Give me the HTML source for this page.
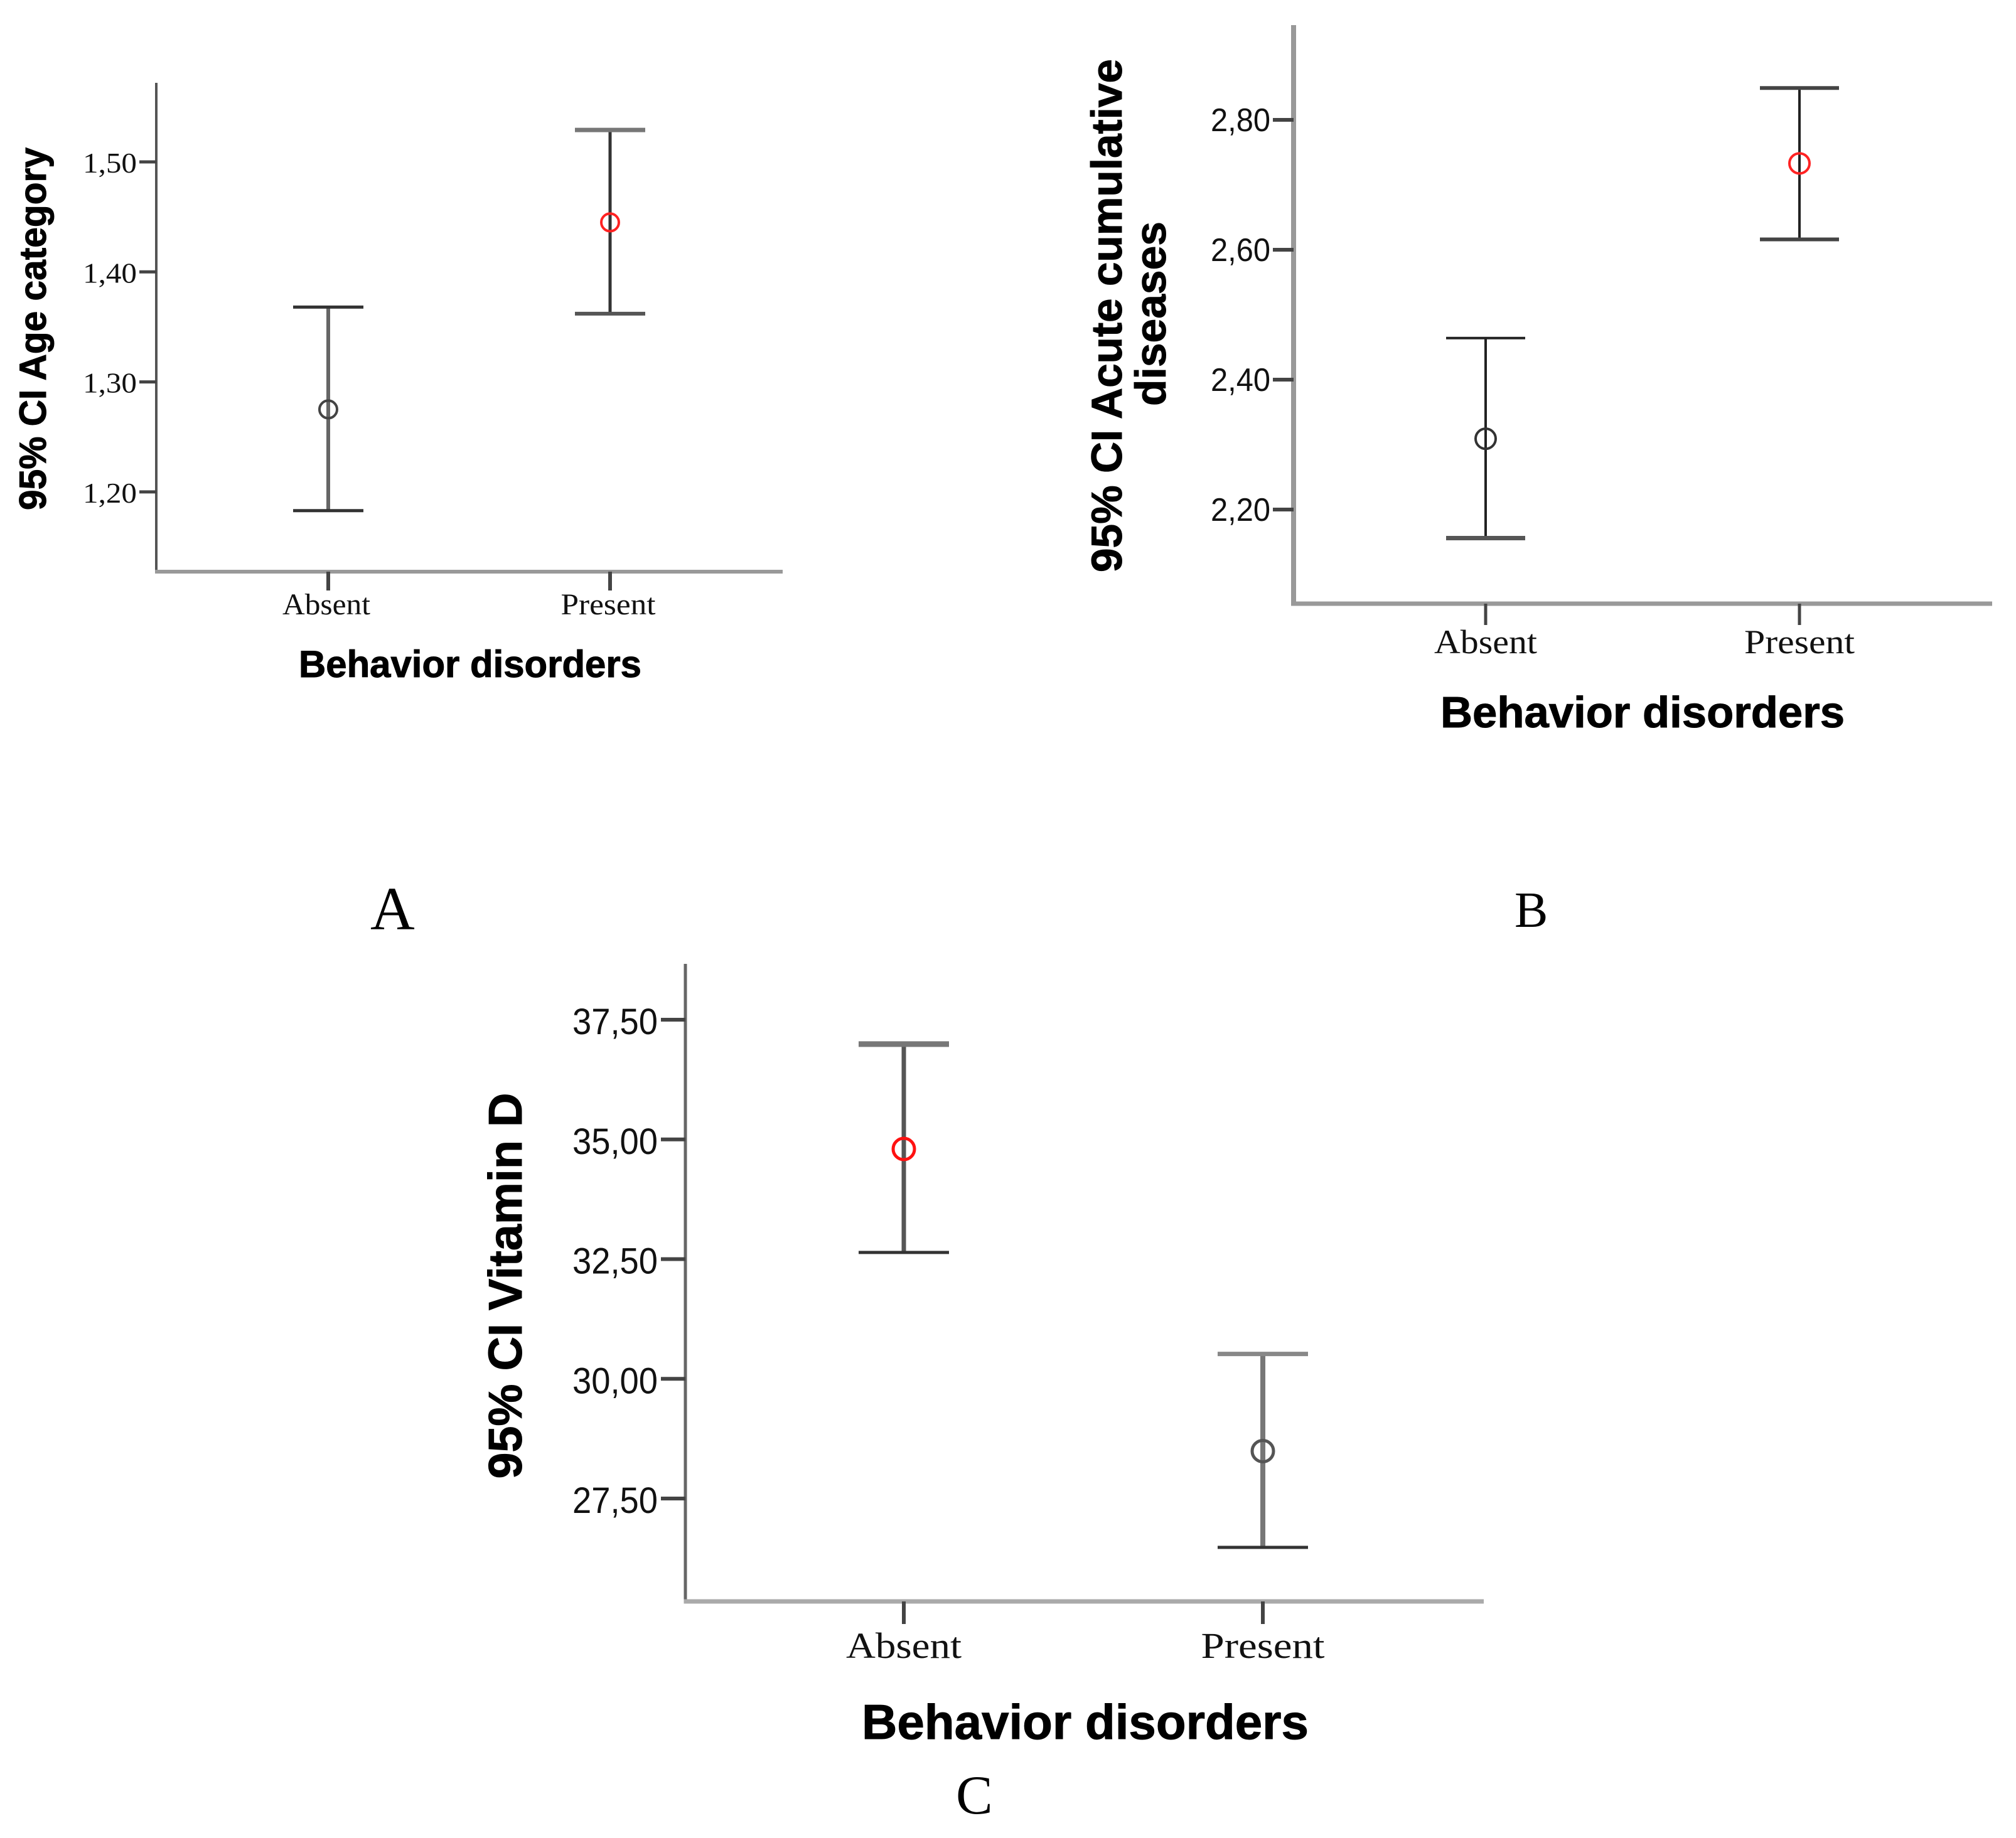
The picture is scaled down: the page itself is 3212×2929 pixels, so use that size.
<!DOCTYPE html>
<html lang="en">
<head>
<meta charset="utf-8">
<title>Behavior disorders confidence interval charts</title>
<style>
html,body{margin:0;padding:0;background:#fff;}
svg{display:block;}
.sans{font-family:"Liberation Sans",sans-serif;}
.serif{font-family:"Liberation Serif",serif;}
.title{font-family:"Liberation Sans",sans-serif;font-weight:700;fill:#000;stroke:#000;stroke-width:1;}
</style>
</head>
<body>
<svg id="figure" xmlns="http://www.w3.org/2000/svg" width="3212" height="2929" viewBox="0 0 3212 2929">
  <rect width="3212" height="2929" fill="#fff"/>

  <g id="panel-a">
    <text class="title" font-size="60" text-anchor="middle" textLength="578" lengthAdjust="spacingAndGlyphs" transform="translate(73 524) rotate(-90)">95% CI Age category</text>
    <text class="title" font-size="60" x="749" y="1079" text-anchor="middle" textLength="546" lengthAdjust="spacingAndGlyphs">Behavior disorders</text>
  </g>

  <g id="panel-b">
    <text class="title" font-size="69" text-anchor="middle" textLength="818" lengthAdjust="spacingAndGlyphs" transform="translate(1787 503) rotate(-90)">95% CI Acute cumulative</text>
    <text class="title" font-size="69" text-anchor="middle" textLength="294" lengthAdjust="spacingAndGlyphs" transform="translate(1857 500) rotate(-90)">diseases</text>
    <text class="title" font-size="70" x="2617" y="1159" text-anchor="middle" textLength="644" lengthAdjust="spacingAndGlyphs">Behavior disorders</text>
  </g>

  <g id="panel-c">
    <text class="title" font-size="75" text-anchor="middle" textLength="615" lengthAdjust="spacingAndGlyphs" transform="translate(831 2049) rotate(-90)">95% CI Vitamin D</text>
    <text class="title" font-size="78" x="1729" y="2771" text-anchor="middle" textLength="712" lengthAdjust="spacingAndGlyphs">Behavior disorders</text>
  </g>

  <text class="serif" font-size="98" x="590" y="1481" fill="#000">A</text>
  <text class="serif" font-size="80" x="2413" y="1477" fill="#000">B</text>
  <text class="serif" font-size="88" x="1523" y="2890" fill="#000">C</text>
</svg>

<script>
const categories = ['Absent', 'Present'];

const tickValuesA = [1.2, 1.3, 1.4, 1.5];
const tickLabelsA = ['1,20', '1,30', '1,40', '1,50'];
const meanA = [1.275, 1.445];
const upperA = [1.368, 1.529];
const lowerA = [1.183, 1.362];

const tickValuesB = [2.2, 2.4, 2.6, 2.8];
const tickLabelsB = ['2,20', '2,40', '2,60', '2,80'];
const meanB = [2.309, 2.733];
const upperB = [2.464, 2.849];
const lowerB = [2.156, 2.616];

const tickValuesC = [27.5, 30, 32.5, 35, 37.5];
const tickLabelsC = ['27,50', '30,00', '32,50', '35,00', '37,50'];
const meanC = [34.8, 28.49];
const upperC = [36.99, 30.52];
const lowerC = [32.64, 26.48];

const SVG_NS = 'http://www.w3.org/2000/svg';

function makeLine(parent, x1, y1, x2, y2, color, width) {
  const el = document.createElementNS(SVG_NS, 'line');
  el.setAttribute('x1', x1);
  el.setAttribute('y1', y1);
  el.setAttribute('x2', x2);
  el.setAttribute('y2', y2);
  el.setAttribute('stroke', color);
  el.setAttribute('stroke-width', width);
  parent.appendChild(el);
  return el;
}

function makeText(parent, str, x, y, size, family, anchor, len) {
  const el = document.createElementNS(SVG_NS, 'text');
  el.textContent = str;
  el.setAttribute('x', x);
  el.setAttribute('y', y);
  el.setAttribute('font-size', size);
  el.setAttribute('class', family);
  el.setAttribute('text-anchor', anchor);
  el.setAttribute('textLength', len);
  el.setAttribute('lengthAdjust', 'spacingAndGlyphs');
  el.setAttribute('fill', '#111');
  parent.appendChild(el);
  return el;
}

function drawPanel(id, ticks, labels, mean, upper, lower, g) {
  const root = document.getElementById(id);
  const yScale = v => g.y0 + (v - g.v0) * g.k;
  const xScale = i => g.catX0 + i * g.catStep;

  const yAxis = makeLine(root, g.axisX, g.axisTop, g.axisX, g.axisBottom + g.xAxisW / 2, g.yAxisColor, g.yAxisW);
  
  

  const xAxis = makeLine(root, g.axisX - g.yAxisW / 2, g.axisBottom, g.axisRight, g.axisBottom, g.xAxisColor, g.xAxisW);
  
  

  ticks.forEach((v, i) => {
    const y = yScale(v);
    const tick = makeLine(root, g.axisX - g.tickLen, y, g.axisX, y, g.tickColor, g.tickW);
    
    
    const label = makeText(root, labels[i], g.tickLabelX, y + g.tickLabelDy, g.tickFont, g.tickFamily, 'end', g.tickLabelLen);
    
    
  });

  categories.forEach((name, i) => {
    const x = xScale(i);
    const tick = makeLine(root, x, g.axisBottom, x, g.axisBottom + g.xTickLen, g.tickColor, g.xTickW);
    
    
    const label = makeText(root, name, x + g.catDx, g.catY, g.catFont, 'serif', 'middle', g.catLen[i]);
    
    

    const stem = makeLine(root, x, yScale(upper[i]), x, yScale(lower[i]), g.stemColors[i], g.stemW[i]);
    
    
    const capTop = makeLine(root, x - g.capHalf, yScale(upper[i]), x + g.capHalf, yScale(upper[i]), g.capColors[i][0], g.capW[i][0]);
    
    
    const capBottom = makeLine(root, x - g.capHalf, yScale(lower[i]), x + g.capHalf, yScale(lower[i]), g.capColors[i][1], g.capW[i][1]);
    
    

    const dot = document.createElementNS(SVG_NS, 'circle');
    dot.setAttribute('cx', x);
    dot.setAttribute('cy', yScale(mean[i]));
    dot.setAttribute('r', g.markerR);
    dot.setAttribute('fill', 'none');
    dot.setAttribute('stroke', g.markerColors[i]);
    dot.setAttribute('stroke-width', g.markerW);
    
    
    root.appendChild(dot);
  });
}

drawPanel('panel-a', tickValuesA, tickLabelsA, meanA, upperA, lowerA, {
  y0: 258, v0: 1.5, k: -1753,
  axisX: 249, axisTop: 132, axisBottom: 911, axisRight: 1247,
  yAxisColor: '#555', yAxisW: 4, xAxisColor: '#999', xAxisW: 6,
  tickColor: '#444', tickW: 5, tickLen: 27, xTickLen: 30, xTickW: 6,
  tickLabelX: 218, tickLabelDy: 17, tickFont: 46, tickFamily: 'serif', tickLabelLen: 86,
  catX0: 523, catStep: 449, catDx: -3, catY: 979, catFont: 48, catLen: [140, 151],
  capHalf: 56,
  stemColors: ['#666', '#333'], stemW: [6, 5],
  capColors: [['#333', '#333'], ['#777', '#555']], capW: [[5, 5], [7, 6]],
  markerR: 14, markerW: 4, markerColors: ['#444', '#f22']
});

drawPanel('panel-b', tickValuesB, tickLabelsB, meanB, upperB, lowerB, {
  y0: 191, v0: 2.8, k: -1035,
  axisX: 2061, axisTop: 40, axisBottom: 962, axisRight: 3174,
  yAxisColor: '#999', yAxisW: 8, xAxisColor: '#999', xAxisW: 7,
  tickColor: '#444', tickW: 6, tickLen: 33, xTickLen: 34, xTickW: 5,
  tickLabelX: 2024, tickLabelDy: 18, tickFont: 52, tickFamily: 'sans', tickLabelLen: 95,
  catX0: 2367, catStep: 500, catDx: 0, catY: 1041, catFont: 54, catLen: [164, 176],
  capHalf: 63,
  stemColors: ['#222', '#222'], stemW: [4, 4],
  capColors: [['#222', '#555'], ['#444', '#444']], capW: [[4, 7], [6, 6]],
  markerR: 16, markerW: 4, markerColors: ['#333', '#f22']
});

drawPanel('panel-c', tickValuesC, tickLabelsC, meanC, upperC, lowerC, {
  y0: 1625, v0: 37.5, k: -76.3,
  axisX: 1092, axisTop: 1536, axisBottom: 2552, axisRight: 2364,
  yAxisColor: '#666', yAxisW: 5, xAxisColor: '#aaa', xAxisW: 7,
  tickColor: '#444', tickW: 6, tickLen: 39, xTickLen: 36, xTickW: 6,
  tickLabelX: 1048, tickLabelDy: 23, tickFont: 58, tickFamily: 'sans', tickLabelLen: 136,
  catX0: 1440, catStep: 572, catDx: 0, catY: 2642, catFont: 58, catLen: [184, 197],
  capHalf: 72,
  stemColors: ['#555', '#777'], stemW: [7, 8],
  capColors: [['#777', '#333'], ['#888', '#333']], capW: [[9, 5], [7, 5]],
  markerR: 17, markerW: 5, markerColors: ['#f11', '#555']
});
</script>
</body>
</html>
